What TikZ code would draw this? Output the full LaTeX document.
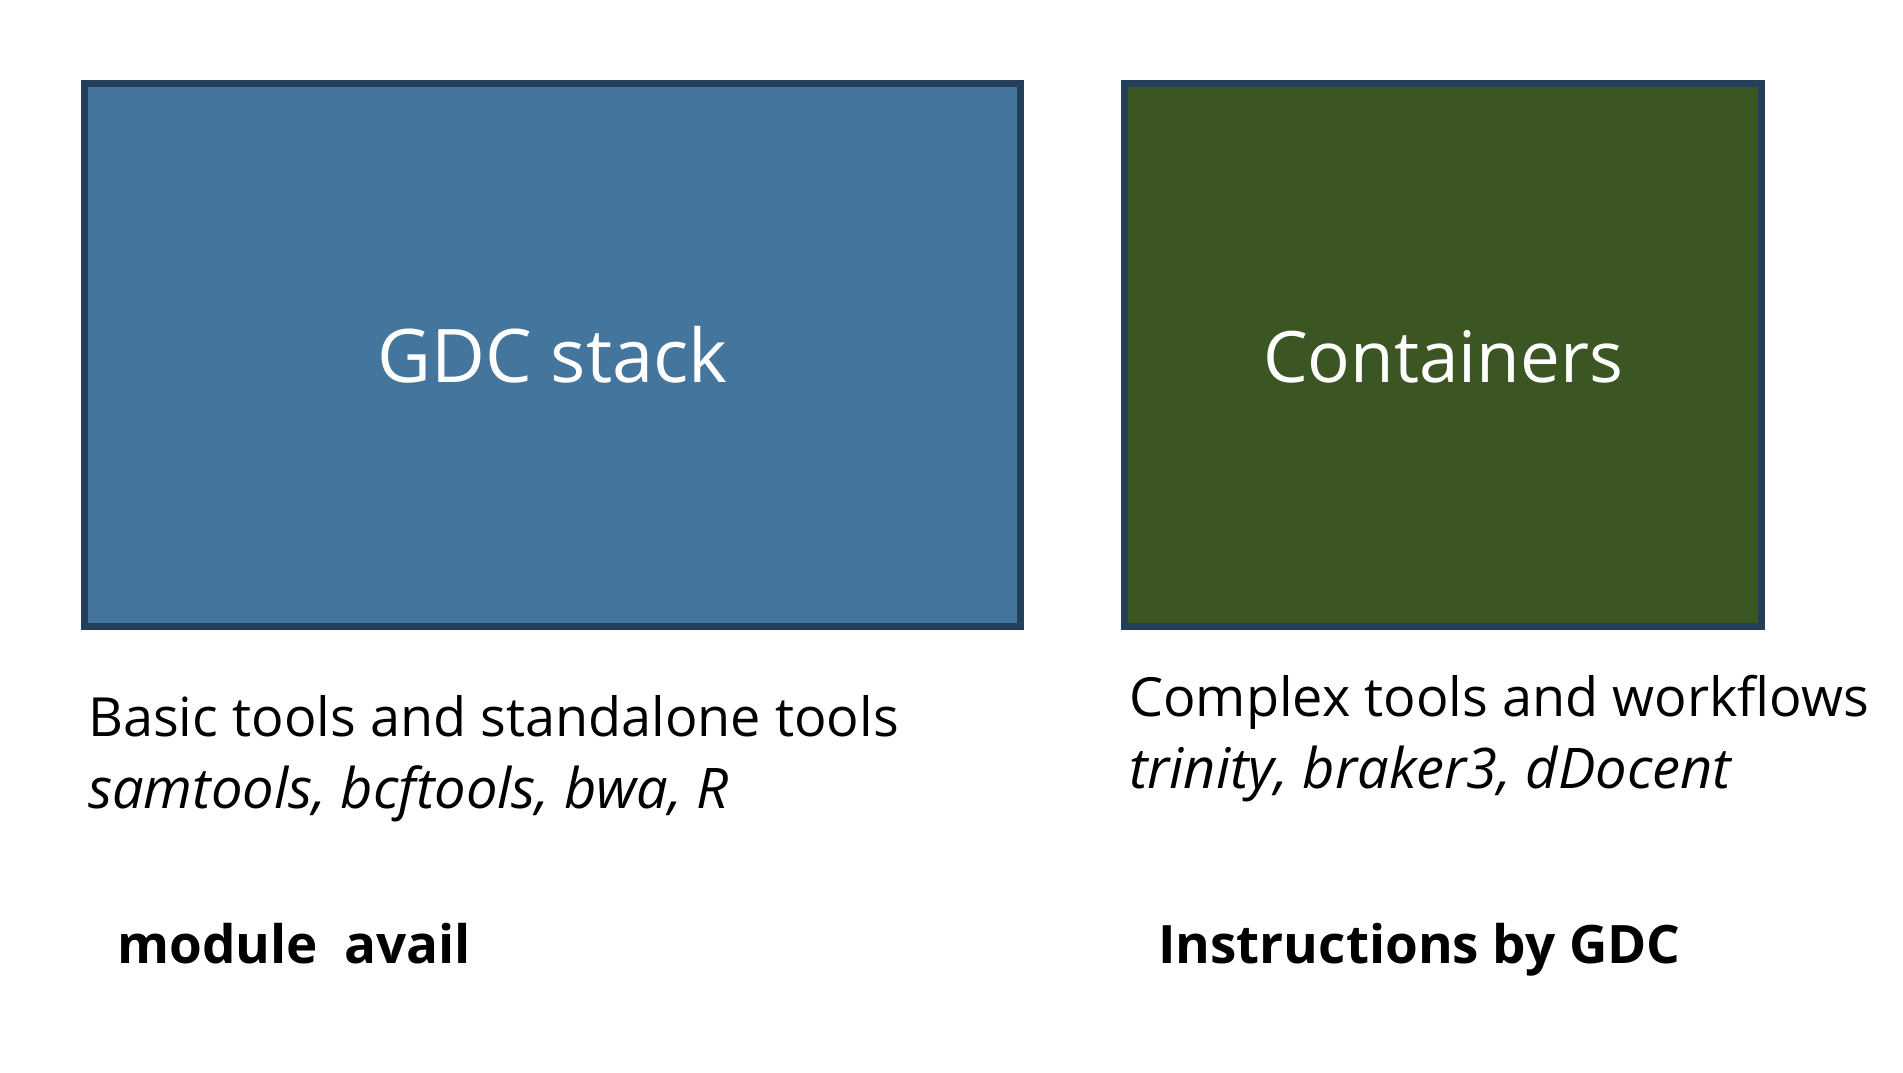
\documentclass[tikz,border=0pt]{standalone}
\usepackage{fontspec}
\setmainfont{Open Sans}
\definecolor{boxblue}{HTML}{44759C}
\definecolor{boxgreen}{HTML}{3B5523}
\definecolor{boxedge}{HTML}{253F5B}
\begin{document}
\begin{tikzpicture}[x=1pt,y=-1pt,
  panel/.style={draw=boxedge,line width=7pt,minimum height=543pt,inner sep=0pt},
  title/.style={anchor=base,inner sep=0pt,text=white},
  caption/.style={anchor=base west,inner sep=0pt,font=\fontsize{54}{60}\selectfont},
  example/.style={anchor=base west,inner sep=0pt,font=\fontsize{56}{60}\selectfont\itshape},
  cmd/.style={anchor=base west,inner sep=0pt,font=\fontsize{53}{60}\selectfont\bfseries}]
\useasboundingbox (0,0) rectangle (1903,1073);
\node[panel,fill=boxblue,minimum width=936pt] (stack) at (552.5,355) {};
\node[title,font=\fontsize{74}{80}\selectfont] (stacklbl) at (552.5,382) {GDC stack};
\node[panel,fill=boxgreen,minimum width=637pt] (cont) at (1443,355) {};
\node[title,font=\fontsize{71}{80}\selectfont] (contlbl) at (1443,382) {Containers};
\node[caption] (basic) at (88,736) {Basic tools and standalone tools};
\node[example] (basicex) at (88,808) {samtools, bcftools, bwa, R};
\node[caption] (complex) at (1129,716) {Complex tools and workflows};
\node[example] (complexex) at (1129,788) {trinity, braker3, dDocent};
\node[cmd] (module) at (117,963) {module\hspace{0.5em}avail};
\node[cmd] (instr) at (1158,963) {Instructions by GDC};
\end{tikzpicture}
\end{document}
